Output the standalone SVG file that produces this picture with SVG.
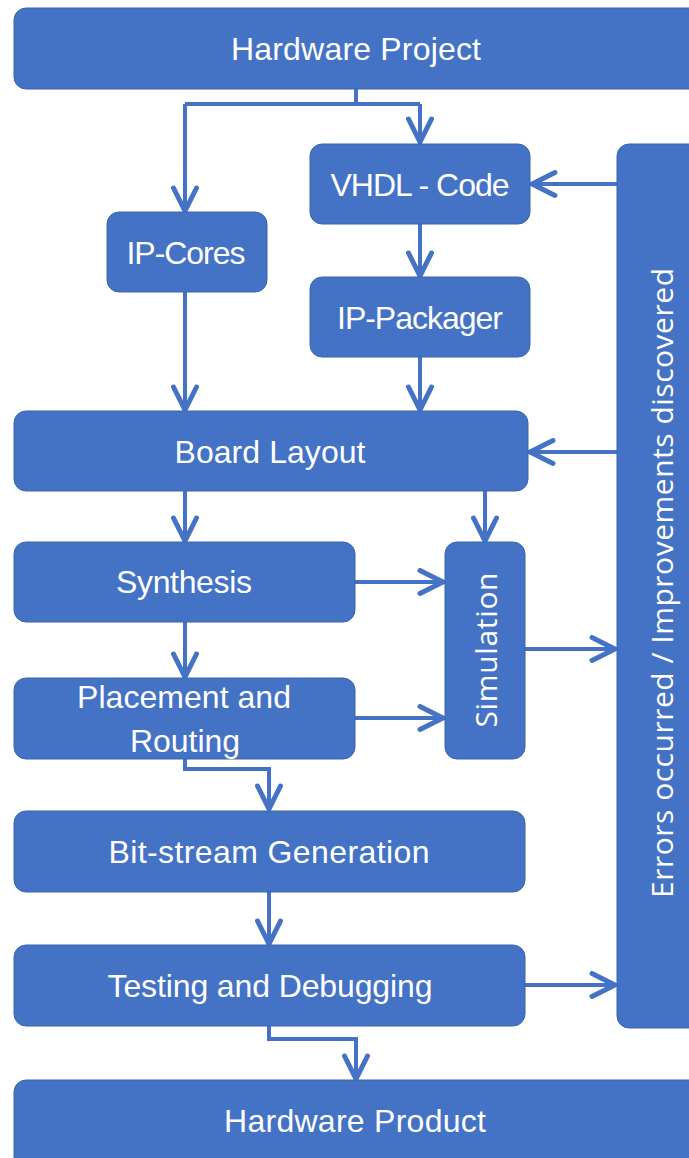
<svg xmlns="http://www.w3.org/2000/svg" width="689" height="1158" viewBox="0 0 689 1158">
  <defs>
    <marker id="chev" markerUnits="userSpaceOnUse" viewBox="-28 -16 32 32" refX="0" refY="0" markerWidth="32" markerHeight="32" orient="auto">
      <path d="M-23,-11.5 L0,0 L-23,11.5" fill="none" stroke="#4472C4" stroke-width="5" stroke-linecap="round" stroke-linejoin="miter"/>
    </marker>
  </defs>
  <style>
    .box { fill: #4472C4; stroke: #3B65B2; stroke-width: 1; }
    .lbl { fill: #FFFFFF; font-family: "Liberation Sans", Arial, sans-serif; font-size: 32px; text-anchor: middle; }
    .vlbl { fill: #FFFFFF; font-family: "Open Sans", "Noto Sans", sans-serif; font-size: 30px; text-anchor: middle; }
    .conn { fill: none; stroke: #4472C4; stroke-width: 4; stroke-linejoin: miter; }
    .arr { marker-end: url(#chev); }
  </style>
  <rect width="689" height="1158" fill="#FFFFFF"/>

  <!-- connectors -->
  <g id="connectors">
    <path class="conn" d="M356,89 V104"/>
    <path class="conn" d="M185,104 H420"/>
    <path class="conn arr" d="M185,104 V211"/>
    <path class="conn arr" d="M420,104 V142"/>
    <path class="conn arr" d="M617,184 H532"/>
    <path class="conn arr" d="M420,224 V276"/>
    <path class="conn arr" d="M185,292 V410"/>
    <path class="conn arr" d="M420,357 V410"/>
    <path class="conn arr" d="M617,452 H530"/>
    <path class="conn arr" d="M185,491 V541"/>
    <path class="conn arr" d="M485,491 V541"/>
    <path class="conn arr" d="M355,582 H443"/>
    <path class="conn arr" d="M185,622 V677"/>
    <path class="conn arr" d="M355,718 H443"/>
    <path class="conn arr" d="M525,649 H615"/>
    <path class="conn arr" d="M185,758 V769 H269 V809"/>
    <path class="conn arr" d="M269,892 V944"/>
    <path class="conn arr" d="M525,985 H615"/>
    <path class="conn arr" d="M269,1026 V1039 H356 V1079"/>
  </g>

  <g id="hardware-project">
    <rect class="box" x="14" y="8" width="700" height="81" rx="12"/>
    <text class="lbl" x="356" y="60" textLength="250">Hardware Project</text>
  </g>
  <g id="vhdl-code">
    <rect class="box" x="310" y="144" width="220" height="80" rx="12"/>
    <text class="lbl" x="420" y="196" textLength="179">VHDL - Code</text>
  </g>
  <g id="ip-cores">
    <rect class="box" x="107" y="212" width="160" height="80" rx="12"/>
    <text class="lbl" x="186" y="264" textLength="119">IP-Cores</text>
  </g>
  <g id="ip-packager">
    <rect class="box" x="310" y="277" width="220" height="80" rx="12"/>
    <text class="lbl" x="420" y="329" textLength="166">IP-Packager</text>
  </g>
  <g id="errors-improvements">
    <rect class="box" x="617" y="144" width="100" height="884" rx="12"/>
    <text class="vlbl" transform="translate(673,583) rotate(-90)" x="0" y="0" textLength="630">Errors occurred / Improvements discovered</text>
  </g>
  <g id="board-layout">
    <rect class="box" x="14" y="411" width="514" height="80" rx="12"/>
    <text class="lbl" x="270" y="463" textLength="191">Board Layout</text>
  </g>
  <g id="synthesis">
    <rect class="box" x="14" y="542" width="341" height="80" rx="12"/>
    <text class="lbl" x="184" y="593" textLength="136">Synthesis</text>
  </g>
  <g id="simulation">
    <rect class="box" x="445" y="542" width="80" height="217" rx="12"/>
    <text class="vlbl" transform="translate(497,650) rotate(-90)" x="0" y="0" textLength="155">Simulation</text>
  </g>
  <g id="placement-routing">
    <rect class="box" x="14" y="678" width="341" height="81" rx="12"/>
    <text class="lbl" x="184" y="708" textLength="214">Placement and</text>
    <text class="lbl" x="185" y="752" textLength="110">Routing</text>
  </g>
  <g id="bitstream-generation">
    <rect class="box" x="14" y="811" width="511" height="81" rx="12"/>
    <text class="lbl" x="269" y="863" textLength="321">Bit-stream Generation</text>
  </g>
  <g id="testing-debugging">
    <rect class="box" x="14" y="945" width="511" height="81" rx="12"/>
    <text class="lbl" x="270" y="997" textLength="325">Testing and Debugging</text>
  </g>
  <g id="hardware-product">
    <rect class="box" x="14" y="1080" width="700" height="100" rx="12"/>
    <text class="lbl" x="355" y="1132" textLength="262">Hardware Product</text>
  </g>
</svg>
